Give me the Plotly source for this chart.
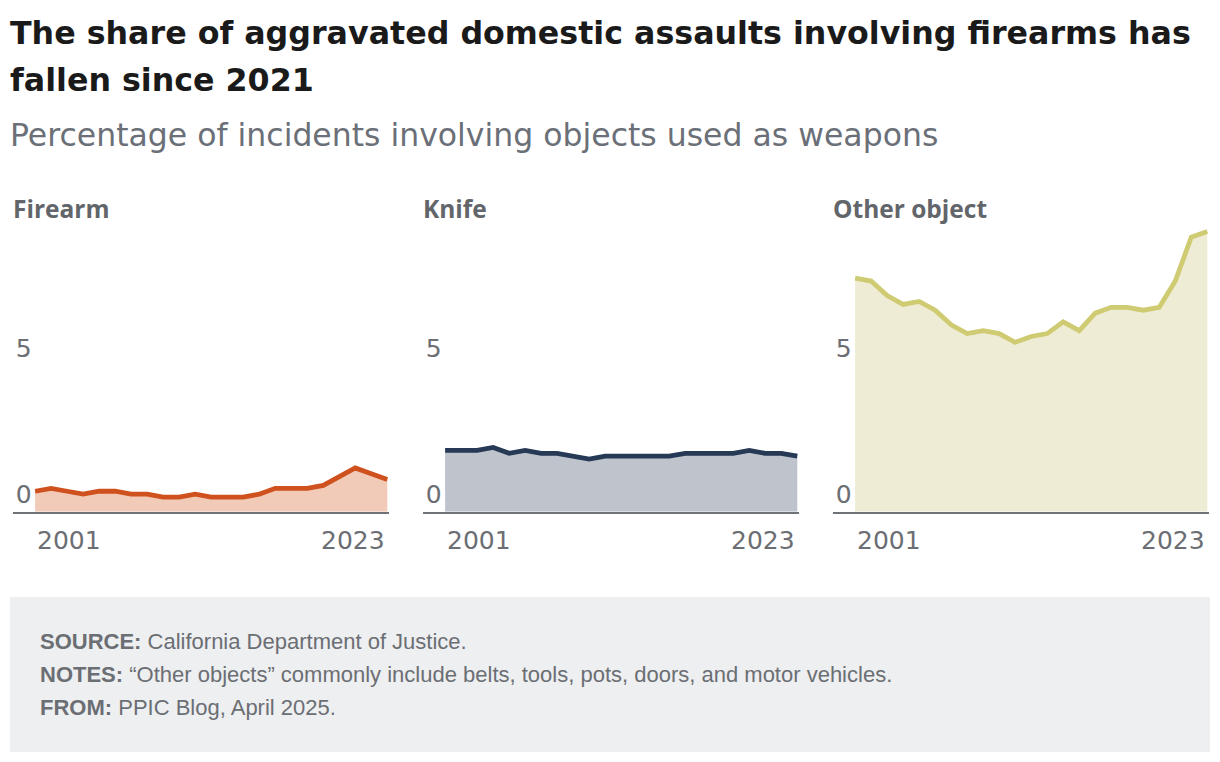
import plotly.graph_objects as go

years = list(range(2001, 2024))
firearm = [0.7, 0.8, 0.7, 0.6, 0.7, 0.7, 0.6, 0.6, 0.5, 0.5, 0.6, 0.5, 0.5, 0.5, 0.6, 0.8, 0.8, 0.8, 0.9, 1.2, 1.5, 1.3, 1.1]
knife = [2.1, 2.1, 2.1, 2.2, 2.0, 2.1, 2.0, 2.0, 1.9, 1.8, 1.9, 1.9, 1.9, 1.9, 1.9, 2.0, 2.0, 2.0, 2.0, 2.1, 2.0, 2.0, 1.9]
other = [8.0, 7.9, 7.4, 7.1, 7.2, 6.9, 6.4, 6.1, 6.2, 6.1, 5.8, 6.0, 6.1, 6.5, 6.2, 6.8, 7.0, 7.0, 6.9, 7.0, 7.9, 9.4, 9.6]

panel_titles = ["Firearm", "Knife", "Other object"]
series = [firearm, knife, other]
line_colors = ["#cf511d", "#263955", "#cfcb73"]
fill_colors = ["#f1cab8", "#bec3cc", "#efecd5"]
y_ticks = [0, 5]
x_labels = [2001, 2023]

W, H = 1220, 762
GRAY = "#6b6e73"
SANS = "'Open Sans', Lato, sans-serif"
WIDE = "'DejaVu Sans', 'Open Sans', sans-serif"

fig = go.Figure()

panel_left_px = [12.7, 422.7, 832.7]
panel_w_px = 376.2
y_dom = [1 - 511.7 / H, 1 - 228.46 / H]

for i, (vals, lc, fc) in enumerate(zip(series, line_colors, fill_colors)):
    n = "" if i == 0 else str(i + 1)
    fig.add_trace(go.Scatter(
        x=years, y=vals, mode="lines", fill="tozeroy",
        line=dict(color=lc, width=4.8), fillcolor=fc,
        xaxis="x" + n, yaxis="y" + n, showlegend=False,
        hovertemplate="%{x}: %{y}%<extra></extra>",
    ))
    x0 = panel_left_px[i] / W
    x1 = (panel_left_px[i] + panel_w_px) / W
    fig.layout["xaxis" + n] = dict(
        domain=[x0, x1], range=[1999.6, 2023.1], showgrid=False, zeroline=False,
        showline=True, linecolor="#6f7276", linewidth=2, showticklabels=False,
        ticks="", anchor="y" + n, fixedrange=True,
    )
    fig.layout["yaxis" + n] = dict(
        domain=y_dom, range=[0, 9.7], showgrid=False, zeroline=False,
        showline=False, tickvals=y_ticks, ticklabelposition="inside top",
        tickfont=dict(family=WIDE, size=25, color=GRAY), ticks="",
        anchor="x" + n, fixedrange=True,
    )
    # panel title
    fig.add_annotation(
        text="<b>%s</b>" % panel_titles[i], xref="paper", yref="paper",
        x=(panel_left_px[i] - 1.5) / W, y=1 - 208 / H, xanchor="left", yanchor="middle",
        showarrow=False, font=dict(family=SANS, size=24.5, color="#62656a"),
    )
    # x labels, aligned to the edges like the original
    for yr, anchor in zip(x_labels, ["left", "right"]):
        fig.add_annotation(
            text=str(yr), xref="x" + n, yref="y" + n, x=yr, y=0,
            xanchor=anchor, yanchor="top", yshift=-12, showarrow=False,
            font=dict(family=WIDE, size=25, color=GRAY),
        )

# Title / subtitle
TITLE_FONT = dict(family=WIDE, size=31.7, color="#1a1a1a")
fig.add_annotation(
    text="<b>The share of aggravated domestic assaults involving firearms has</b>",
    xref="paper", yref="paper", x=8 / W, y=1 - 33 / H, xanchor="left", yanchor="middle",
    showarrow=False, font=TITLE_FONT,
)
fig.add_annotation(
    text="<b>fallen since 2021</b>",
    xref="paper", yref="paper", x=8 / W, y=1 - 80 / H, xanchor="left", yanchor="middle",
    showarrow=False, font=TITLE_FONT,
)
fig.add_annotation(
    text="Percentage of incidents involving objects used as weapons",
    xref="paper", yref="paper", x=8 / W, y=1 - 135 / H, xanchor="left", yanchor="middle",
    showarrow=False, font=dict(family=WIDE, size=31.5, color="#6b7078"),
)

# Footer box
fig.add_shape(type="rect", xref="paper", yref="paper",
              x0=10 / W, x1=1210 / W, y0=1 - 752 / H, y1=1 - 597 / H,
              fillcolor="#eeeff1", line=dict(width=0), layer="below")
FOOT = "'Liberation Sans', Arial, sans-serif"
foot_lines = [
    "<b>SOURCE:</b> California Department of Justice.",
    "<b>NOTES:</b> \u201cOther objects\u201d commonly include belts, tools, pots, doors, and motor vehicles.",
    "<b>FROM:</b> PPIC Blog, April 2025.",
]
for k, t in enumerate(foot_lines):
    fig.add_annotation(
        text=t, xref="paper", yref="paper", x=38 / W, y=1 - (641 + 33 * k) / H,
        xanchor="left", yanchor="middle", showarrow=False,
        font=dict(family=FOOT, size=22, color="#6b6e73"),
    )

fig.update_layout(
    width=W, height=H, margin=dict(l=0, r=0, t=0, b=0),
    paper_bgcolor="white", plot_bgcolor="rgba(0,0,0,0)",
)

fig.write_html("out.html", config={"displayModeBar": False},
               post_script="document.body.style.margin='0';")
